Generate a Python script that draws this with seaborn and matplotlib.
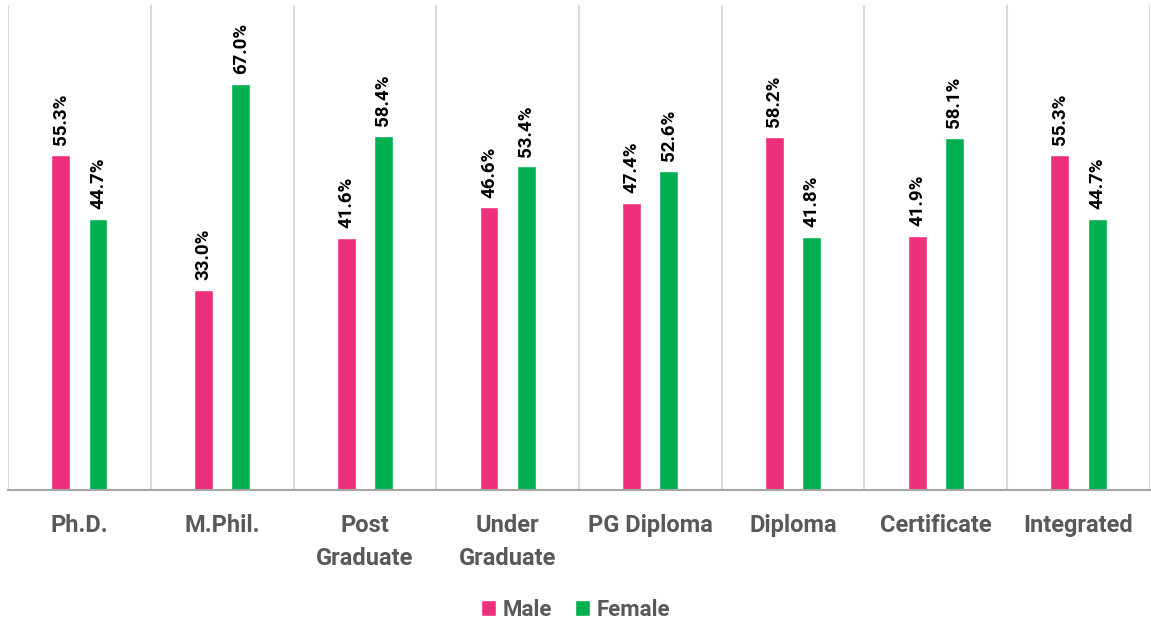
import numpy as np
import pandas as pd
import seaborn as sns
import matplotlib.pyplot as plt

categories = ["Ph.D.", "M.Phil.", "Post\nGraduate", "Under\nGraduate", "PG Diploma",
              "Diploma", "Certificate", "Integrated"]
male = [55.3, 33.0, 41.6, 46.6, 47.4, 58.2, 41.9, 55.3]
female = [44.7, 67.0, 58.4, 53.4, 52.6, 41.8, 58.1, 44.7]

df = pd.DataFrame({
    "category": categories * 2,
    "value": male + female,
    "gender": ["Male"] * len(categories) + ["Female"] * len(categories),
})

sns.set_style("white")
plt.rcParams['font.family'] = ['Roboto', 'DejaVu Sans']

fig = plt.figure(figsize=(11.51, 6.25), dpi=100)
ax = fig.add_axes([0.007, 0.216, 0.992, 0.776])

sns.barplot(data=df, x="category", y="value", hue="gender", order=categories,
            palette={"Male": "#EE307A", "Female": "#00B050"}, saturation=1,
            width=0.52, gap=0.49, ax=ax, legend=True)

for c in ax.containers:
    ax.bar_label(c, labels=[f"{v:.1f}%" for v in c.datavalues], rotation=90,
                 padding=7, fontsize=13.5, fontweight='bold', color='black')

# category separators
for b in np.arange(-0.5, len(categories), 1.0):
    ax.axvline(b, color="#d9d9d9", lw=1.5, zorder=0)

ax.set_xlim(-0.5, len(categories) - 0.5)
ax.set_ylim(0, 80)
ax.set_yticks([])
ax.set_xlabel("")
ax.set_ylabel("")
for s in ["top", "left", "right"]:
    ax.spines[s].set_visible(False)
ax.spines["bottom"].set_color("#a6a6a6")
ax.spines["bottom"].set_linewidth(1.5)
ax.tick_params(axis='x', length=0, pad=17)
for t in ax.get_xticklabels():
    t.set_fontsize(17)
    t.set_fontweight('bold')
    t.set_color('#595959')
    t.set_linespacing(1.6)

handles, labels = ax.get_legend_handles_labels()
ax.legend_.remove()
leg = fig.legend(handles, labels, loc='center', bbox_to_anchor=(0.5, 0.024), ncol=2,
                 frameon=False, handlelength=0.7, handleheight=0.7, handletextpad=0.3,
                 columnspacing=1.0, prop={'size': 16, 'weight': 'bold'})
for t in leg.get_texts():
    t.set_color('#595959')

fig.savefig("out.png", dpi=100)
